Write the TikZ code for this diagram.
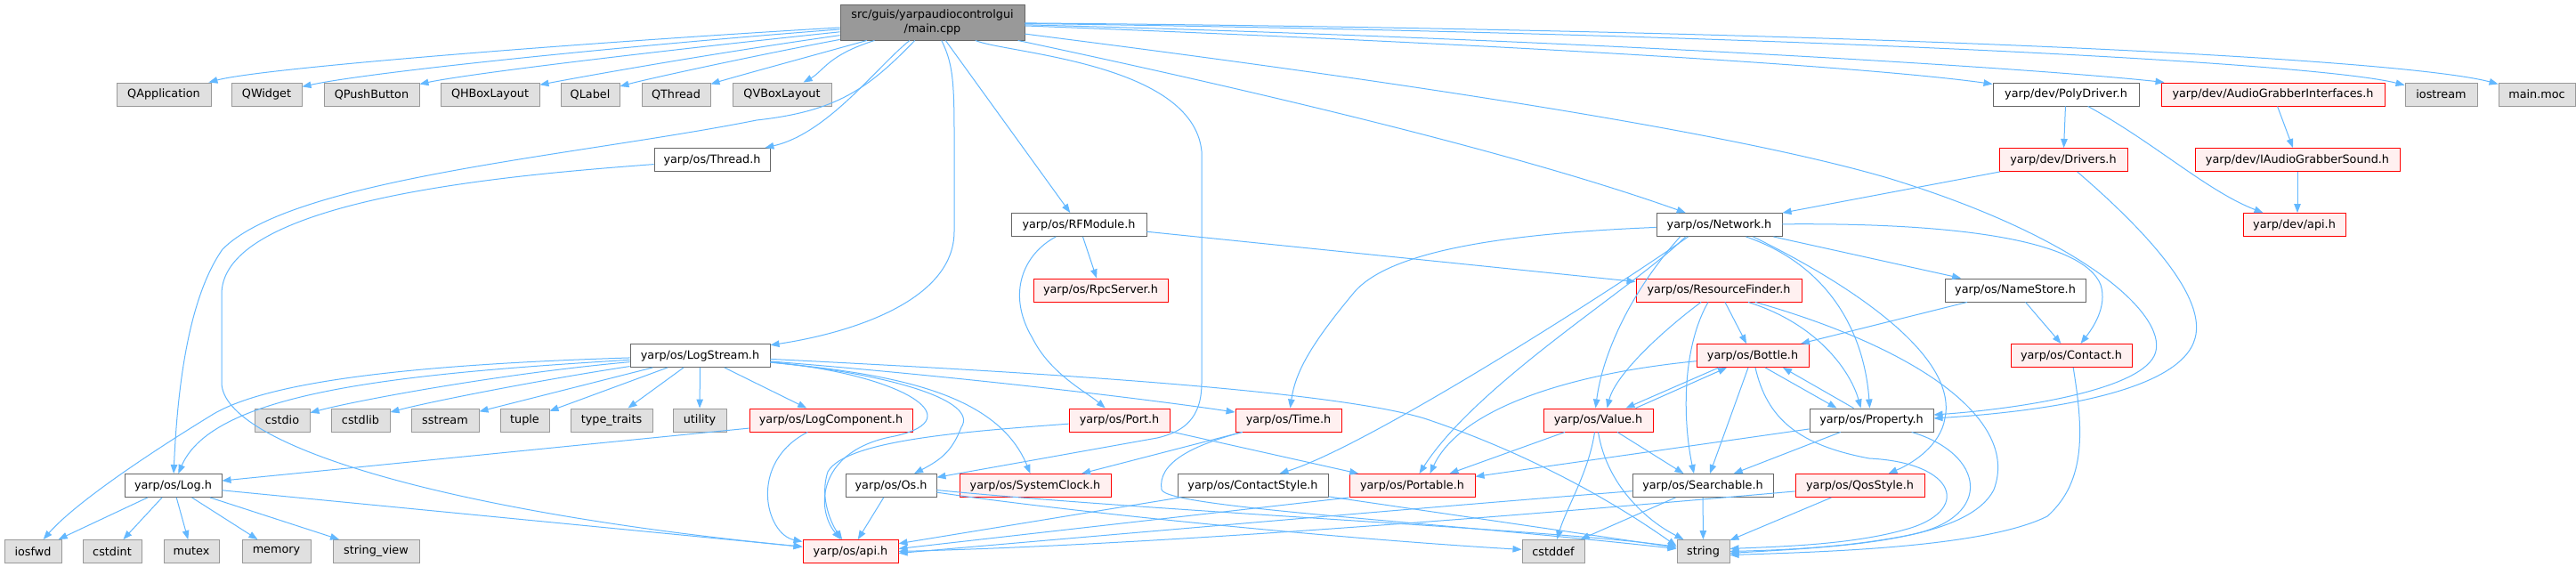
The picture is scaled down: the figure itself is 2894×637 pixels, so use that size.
\documentclass[tikz,border=0pt]{standalone}
\usepackage{fontspec}
\setmainfont{DejaVu Sans}
\usetikzlibrary{arrows.meta}
\definecolor{edgec}{HTML}{63B8FF}
\definecolor{extfill}{HTML}{E0E0E0}
\definecolor{extdraw}{HTML}{999999}
\definecolor{redfill}{HTML}{FFF0F0}
\definecolor{reddraw}{HTML}{FF0000}
\definecolor{whtdraw}{HTML}{666666}
\definecolor{mainfill}{HTML}{999999}
\begin{document}
\begin{tikzpicture}[x=1pt,y=-1pt,
  box/.style={rectangle, inner sep=0pt, minimum height=26pt, line width=0.95pt, text=black,
    font=\fontsize{12.8}{16}\selectfont},
  ext/.style={box, fill=extfill, draw=extdraw},
  redn/.style={box, fill=redfill, draw=reddraw},
  wht/.style={box, fill=white, draw=whtdraw},
  mainn/.style={box, fill=mainfill, draw=whtdraw, align=center, minimum height=40pt},
  e/.style={draw=edgec, line width=1pt, -{Triangle[length=10pt,width=7.5pt]}}
]
\useasboundingbox (0,0) rectangle (2894,637);
\fill[white] (0,0) rectangle (2894,637);

% ---------- nodes ----------
\node[mainn, minimum width=207pt] (main) at (1047.5,25) {src/guis/yarpaudiocontrolgui\\/main.cpp};

\node[ext, minimum width=106pt] (qapp) at (184,106) {QApplication};
\node[ext, minimum width=79pt] (qwid) at (299.5,106) {QWidget};
\node[ext, minimum width=107pt] (qpush) at (417.5,106) {QPushButton};
\node[ext, minimum width=111pt] (qhbox) at (550.5,106) {QHBoxLayout};
\node[ext, minimum width=66pt] (qlabel) at (663,106) {QLabel};
\node[ext, minimum width=77pt] (qthread) at (759.5,106) {QThread};
\node[ext, minimum width=111pt] (qvbox) at (878.5,106) {QVBoxLayout};
\node[wht, minimum width=164pt] (poly) at (2321,106) {yarp/dev/PolyDriver.h};
\node[redn, minimum width=251pt] (agi) at (2553.5,106) {yarp/dev/AudioGrabberInterfaces.h};
\node[ext, minimum width=81pt] (iostream) at (2742.5,106) {iostream};
\node[ext, minimum width=86pt] (moc) at (2850,106) {main.moc};

\node[wht, minimum width=130pt] (thread) at (800,179.5) {yarp/os/Thread.h};
\node[redn, minimum width=144pt] (drivers) at (2318,179.5) {yarp/dev/Drivers.h};
\node[redn, minimum width=230pt] (iags) at (2581,179.5) {yarp/dev/IAudioGrabberSound.h};

\node[wht, minimum width=152pt] (rfmod) at (1212,252.5) {yarp/os/RFModule.h};
\node[wht, minimum width=141pt] (network) at (1931.5,252.5) {yarp/os/Network.h};
\node[redn, minimum width=115pt] (devapi) at (2577.5,252.5) {yarp/dev/api.h};

\node[redn, minimum width=151pt] (rpc) at (1236.5,326) {yarp/os/RpcServer.h};
\node[redn, minimum width=186pt] (resf) at (1931,326) {yarp/os/ResourceFinder.h};
\node[wht, minimum width=158pt] (namestore) at (2264,326) {yarp/os/NameStore.h};

\node[wht, minimum width=157pt] (logstream) at (786.5,399.5) {yarp/os/LogStream.h};
\node[redn, minimum width=126pt] (bottle) at (1969,399.5) {yarp/os/Bottle.h};
\node[redn, minimum width=136pt] (contact) at (2327,399.5) {yarp/os/Contact.h};

\node[ext, minimum width=62pt] (cstdio) at (317,472) {cstdio};
\node[ext, minimum width=66pt] (cstdlib) at (405,472) {cstdlib};
\node[ext, minimum width=76pt] (sstream) at (500,472) {sstream};
\node[ext, minimum width=55pt] (tuple) at (589.5,472) {tuple};
\node[ext, minimum width=92pt] (typetraits) at (687,472) {type\_traits};
\node[ext, minimum width=60pt] (utility) at (786,472) {utility};
\node[redn, minimum width=183pt] (logcomp) at (933.5,472) {yarp/os/LogComponent.h};
\node[redn, minimum width=113pt] (port) at (1257.5,472) {yarp/os/Port.h};
\node[redn, minimum width=119pt] (time) at (1447.5,472) {yarp/os/Time.h};
\node[redn, minimum width=123pt] (value) at (1795.5,472) {yarp/os/Value.h};
\node[wht, minimum width=139pt] (property) at (2102.5,472) {yarp/os/Property.h};

\node[wht, minimum width=109pt] (log) at (194.5,545.5) {yarp/os/Log.h};
\node[wht, minimum width=102pt] (os) at (1001,545.5) {yarp/os/Os.h};
\node[redn, minimum width=170pt] (sysclock) at (1163,545.5) {yarp/os/SystemClock.h};
\node[wht, minimum width=169pt] (contactstyle) at (1407.5,545.5) {yarp/os/ContactStyle.h};
\node[redn, minimum width=141pt] (portable) at (1586.5,545.5) {yarp/os/Portable.h};
\node[wht, minimum width=158pt] (searchable) at (1913,545.5) {yarp/os/Searchable.h};
\node[redn, minimum width=145pt] (qos) at (2089.5,545.5) {yarp/os/QosStyle.h};

\node[ext, minimum width=64pt] (iosfwd) at (37,619.5) {iosfwd};
\node[ext, minimum width=66pt] (cstdint) at (126,619.5) {cstdint};
\node[ext, minimum width=62pt] (mutex) at (215,619.5) {mutex};
\node[ext, minimum width=77pt] (memory) at (310.5,619.5) {memory};
\node[ext, minimum width=97pt] (stringview) at (422.5,619.5) {string\_view};
\node[redn, minimum width=107pt] (osapi) at (955.5,619.5) {yarp/os/api.h};
\node[ext, minimum width=70pt] (cstddef) at (1745,619.5) {cstddef};
\node[ext, minimum width=59pt] (string) at (1913.5,619.5) {string};

% ---------- edges from main ----------
\draw[e] (main) .. controls (700,45) and (300,75) .. (qapp);
\draw[e] (main) .. controls (720,50) and (420,80) .. (qwid);
\draw[e] (main) .. controls (760,55) and (530,82) .. (qpush);
\draw[e] (main) .. controls (800,60) and (660,85) .. (qhbox);
\draw[e] (main) .. controls (850,62) and (730,88) .. (qlabel);
\draw[e] (main) .. controls (900,66) and (830,85) .. (qthread);
\draw[e] (main) .. controls (930,62) and (925,80) .. (qvbox);
\draw[e] (main) .. controls (975,100) and (940,125) .. (850,135) .. controls (650,175) and (330,200) .. (250,280) .. controls (215,330) and (200,420) .. (log);
\draw[e] (main) .. controls (985,75) and (930,150) .. (thread);
\draw[e] (main) .. controls (1070,70) and (1072,90) .. (1072,150) -- (1072,260) .. controls (1072,340) and (950,375) .. (logstream);
\draw[e] (main) -- (rfmod);
\draw[e] (main) .. controls (1130,60) and (1340,70) .. (1350,170) -- (1350,430) .. controls (1350,470) and (1330,485) .. (1300,492) -- (os);
\draw[e] (main) .. controls (1400,100) and (1700,170) .. (network);
\draw[e] (main) .. controls (1600,95) and (1950,150) .. (2121,200) .. controls (2350,270) and (2440,360) .. (2420,400) .. controls (2400,440) and (2260,460) .. ([yshift=6pt]property.east);
\draw[e] (main) .. controls (1700,50) and (2100,75) .. (poly);
\draw[e] (main) .. controls (1800,45) and (2300,78) .. (agi);
\draw[e] (main) .. controls (2000,38) and (2600,70) .. (iostream);
\draw[e] (main) .. controls (2100,34) and (2700,66) .. (moc);

% ---------- dev ----------
\draw[e] (poly) -- (drivers);
\draw[e] (poly) .. controls (2420,160) and (2480,215) .. (devapi);
\draw[e] (agi) -- (iags);
\draw[e] (iags) -- (iags |- devapi.north);
\draw[e] (drivers) -- (network);
\draw[e] (drivers) .. controls (2400,250) and (2480,330) .. (2466,380) .. controls (2450,440) and (2300,462) .. ([yshift=2pt]property.east);

% ---------- Thread ----------
\draw[e] (thread) .. controls (600,195) and (250,220) .. (249,330) -- (249,430) .. controls (250,500) and (500,575) .. (osapi);

% ---------- LogStream ----------
\draw[e] (logstream) .. controls (450,410) and (300,430) .. (240,465) .. controls (150,520) and (80,570) .. (iosfwd);
\draw[e] (logstream) .. controls (450,420) and (240,440) .. (log);
\draw[e] (logstream) .. controls (560,420) and (400,450) .. (cstdio);
\draw[e] (logstream) .. controls (600,428) and (480,452) .. (cstdlib);
\draw[e] (logstream) -- (sstream);
\draw[e] (logstream) -- (tuple);
\draw[e] (logstream) -- (typetraits);
\draw[e] (logstream) -- (utility);
\draw[e] (logstream) -- (logcomp);
\draw[e] (logstream) .. controls (1000,420) and (1100,450) .. (1080,480) .. controls (1070,505) and (1060,515) .. (os);
\draw[e] (logstream) .. controls (1000,420) and (1120,440) .. (sysclock);
\draw[e] (logstream) .. controls (1010,420) and (1095,470) .. (1005,490) .. controls (920,505) and (915,570) .. (osapi);
\draw[e] (logstream) .. controls (1100,425) and (1300,450) .. (time);
\draw[e] (logstream) .. controls (1200,420) and (1500,440) .. (1600,470) .. controls (1750,520) and (1850,590) .. ([yshift=6pt]string.west);

% ---------- Log ----------
\draw[e] (log) -- (iosfwd);
\draw[e] (log) -- (cstdint);
\draw[e] (log) -- (mutex);
\draw[e] (log) -- (memory);
\draw[e] (log) -- (stringview);
\draw[e] (log) -- (osapi);

% ---------- LogComponent ----------
\draw[e] (logcomp) -- (log);
\draw[e] (logcomp) .. controls (840,520) and (860,600) .. (osapi);

% ---------- Os ----------
\draw[e] (os) -- (osapi);
\draw[e] (os) .. controls (1200,575) and (1500,605) .. (cstddef);
\draw[e] (os) .. controls (1300,575) and (1750,595) .. ([yshift=5pt]string.west);

% ---------- Time ----------
\draw[e] (time) -- (sysclock);
\draw[e] (time) .. controls (1340,500) and (1300,520) .. (1305,550) .. controls (1310,570) and (1600,585) .. ([yshift=3pt]string.west);

% ---------- Port ----------
\draw[e] (port) -- (portable);
\draw[e] (port) .. controls (1080,485) and (950,495) .. (930,530) .. controls (920,560) and (935,590) .. (osapi);

% ---------- RFModule ----------
\draw[e] (rfmod) -- (rpc);
\draw[e] (rfmod) -- (resf);
\draw[e] (rfmod) .. controls (1150,285) and (1130,330) .. (1160,380) .. controls (1180,420) and (1220,440) .. (port);

% ---------- Network ----------
\draw[e] (network) .. controls (1700,262) and (1560,280) .. (1520,330) .. controls (1470,390) and (1455,420) .. (time);
\draw[e] ([xshift=-35pt]network.south) .. controls (1820,320) and (1540,500) .. ([xshift=30pt]contactstyle.north);
\draw[e] ([xshift=-38pt]network.south) .. controls (1840,320) and (1660,430) .. ([xshift=8pt]portable.north);
\draw[e] ([xshift=-44pt]network.south) .. controls (1830,330) and (1800,400) .. ([xshift=-3pt]value.north);
\draw[e] ([xshift=30pt]network.south) .. controls (2060,300) and (2095,380) .. ([xshift=-2pt]property.north);
\draw[e] ([xshift=38pt]network.south) .. controls (2080,320) and (2200,400) .. (2185,470) .. controls (2180,500) and (2150,520) .. (qos);
\draw[e] (network) -- (namestore);
\draw[e] (network) .. controls (2200,250) and (2340,270) .. (2360,320) .. controls (2368,345) and (2350,370) .. (contact);

% ---------- ResourceFinder ----------
\draw[e] ([xshift=-20pt]resf.south) .. controls (1870,370) and (1815,420) .. ([xshift=10pt]value.north);
\draw[e] ([xshift=-12pt]resf.south) .. controls (1890,390) and (1890,470) .. ([xshift=-10pt]searchable.north);
\draw[e] (resf) -- (bottle);
\draw[e] ([xshift=33pt]resf.south) .. controls (2045,365) and (2080,420) .. ([xshift=-12pt]property.north);
\draw[e] ([xshift=41pt]resf.south) .. controls (2150,390) and (2270,470) .. (2240,550) .. controls (2210,610) and (2050,615) .. ([yshift=-2pt]string.east);

% ---------- NameStore ----------
\draw[e] (namestore) -- (bottle);
\draw[e] (namestore) -- (contact);

% ---------- Contact ----------
\draw[e] (contact) .. controls (2340,480) and (2345,540) .. (2300,580) .. controls (2230,615) and (2050,620) .. ([yshift=-4pt]string.east);

% ---------- Bottle ----------
\draw[e] (bottle) .. controls (1760,420) and (1640,460) .. ([xshift=20pt]portable.north);
\draw[e] ([xshift=-38pt]bottle.south) -- ([xshift=31pt]value.north);
\draw[e] ([xshift=42pt]value.north) -- ([xshift=-29pt]bottle.south);
\draw[e] ([xshift=14pt]bottle.south) -- ([xshift=-39pt]property.north);
\draw[e] ([xshift=-20pt]property.north) -- ([xshift=34pt]bottle.south);
\draw[e] ([xshift=-5pt]bottle.south) -- ([xshift=8pt]searchable.north);
\draw[e] ([xshift=3pt]bottle.south) .. controls (1985,470) and (2020,500) .. (2100,515) .. controls (2200,520) and (2215,575) .. (2140,595) .. controls (2080,612) and (2000,614) .. ([yshift=3pt]string.east);

% ---------- Value ----------
\draw[e] (value) -- ([xshift=42pt]portable.north);
\draw[e] (value) -- (searchable);
\draw[e] ([xshift=-4pt]value.south) .. controls (1785,530) and (1760,570) .. (cstddef);
\draw[e] (value.south) .. controls (1805,545) and (1850,585) .. ([xshift=-22pt]string.north);

% ---------- Property ----------
\draw[e] (property) -- (searchable);
\draw[e] (property) -- (portable);
\draw[e] (property) .. controls (2230,510) and (2240,580) .. (2150,600) .. controls (2080,615) and (2000,618) .. (string.east);

% ---------- Searchable ----------
\draw[e] (searchable) .. controls (1600,570) and (1200,605) .. ([yshift=-2pt]osapi.east);
\draw[e] (searchable) -- (cstddef);
\draw[e] (searchable) -- (string);

% ---------- QosStyle ----------
\draw[e] (qos) .. controls (1700,580) and (1300,612) .. (osapi.east);
\draw[e] (qos) -- (string);

% ---------- ContactStyle ----------
\draw[e] (contactstyle) -- (osapi);
\draw[e] (contactstyle) -- (string);

% ---------- Portable ----------
\draw[e] (portable.south west) -- ([yshift=3pt]osapi.east);
\end{tikzpicture}
\end{document}
